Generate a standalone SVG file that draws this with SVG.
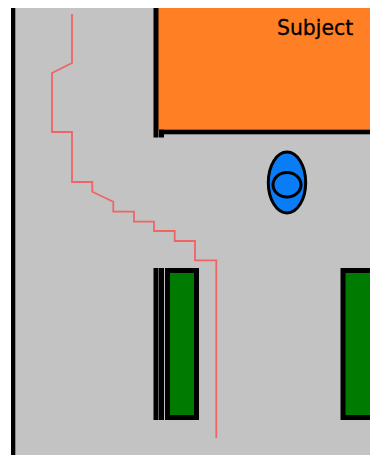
<svg xmlns="http://www.w3.org/2000/svg" width="370" height="455" viewBox="0 0 370 455">
  <style>
    .wall { fill: #000; }
    .bed { fill: #007a00; stroke: #000; stroke-width: 5; }
    .route { fill: none; stroke: #f06464; stroke-width: 1.8; stroke-linejoin: miter; }
    .person { fill: #0a7cf5; stroke: #000; stroke-width: 3; }
    text { font-family: "DejaVu Sans", Verdana, sans-serif; font-size: 20.4px; fill: #000; stroke: #000; stroke-width: 0.3; }
  </style>
  <rect width="370" height="455" fill="#fff"/>
  <rect id="floor" x="11" y="8" width="359" height="447" fill="#c3c3c3"/>
  <g id="subject">
    <rect x="158" y="8" width="212" height="122" fill="#ff7f24"/>
    <text x="277" y="34.5">Subject</text>
  </g>
  <g id="walls">
    <rect class="wall" x="11" y="8" width="4.3" height="447"/>
    <rect class="wall" x="153.5" y="8" width="5" height="129.5"/>
    <rect class="wall" x="159" y="129.7" width="211" height="4.6"/>
    <rect class="wall" x="159" y="129.7" width="5" height="7.8"/>
  </g>
  <g id="bars">
    <rect class="wall" x="153.5" y="268" width="5" height="152"/>
    <rect class="wall" x="159" y="268" width="5" height="152"/>
  </g>
  <g id="bed-left"><rect class="bed" x="167.5" y="270.5" width="29" height="147"/></g>
  <g id="bed-right"><rect class="bed" x="343" y="270.5" width="40" height="147"/></g>
  <g id="person">
    <ellipse class="person" cx="287" cy="182.5" rx="18.7" ry="30.5"/>
    <ellipse class="person" cx="287" cy="184.7" rx="14" ry="12.3"/>
  </g>
  <g id="connectors">
    <path class="route" d="M72 14V63L52 73V132H72V182H92.3V191.7L113.3 201.7V211.7H134V221.7H154V231H174.7V241H195V260.3H216.3V438"/>
  </g>
</svg>
